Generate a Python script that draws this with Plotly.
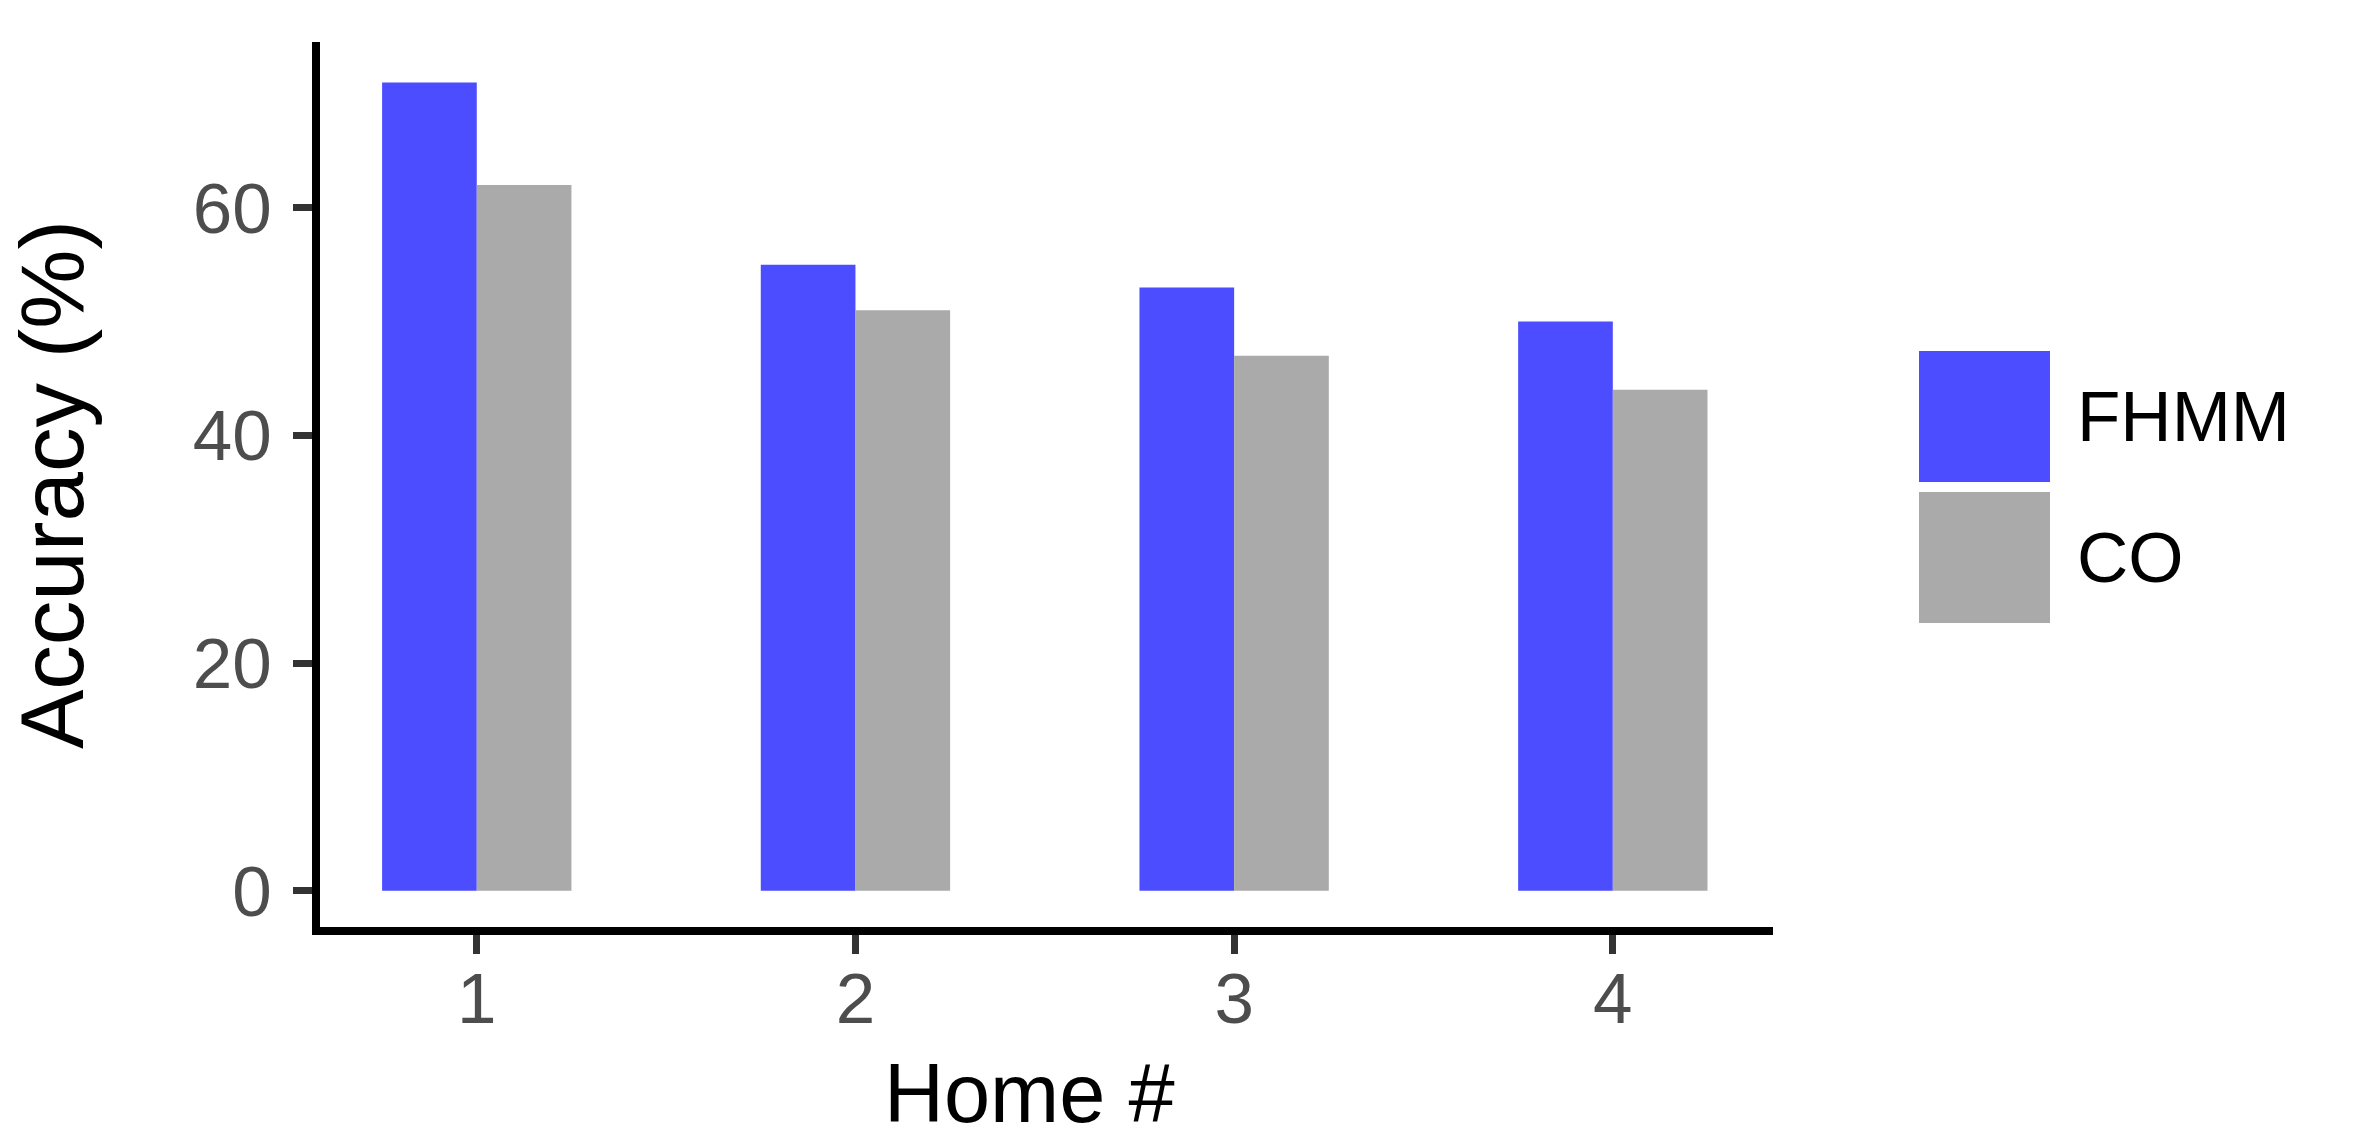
import plotly.graph_objects as go

# ---- data ----
homes = ["1", "2", "3", "4"]
fhmm_acc = [71, 55, 53, 50]
co_acc = [62, 51, 47, 44]
series_names = ["FHMM", "CO"]
series_colors = ["#4B4DFF", "#AAAAAA"]
y_tick_vals = [0, 20, 40, 60]
x_title = "Home #"
y_title = "Accuracy (%)"

# ---- geometry (pixels) ----
W, H = 2362, 1142
L, R, T, B = 320, 589, 42, 215
PW, PH = W - L - R, H - T - B


def px_to_paper_x(px):
    return (px - L) / PW


def px_to_paper_y(py):
    return (H - B - py) / PH


FONT = "Liberation Sans, Arial, Helvetica, sans-serif"

fig = go.Figure()
for name, vals, col in zip(series_names, [fhmm_acc, co_acc], series_colors):
    fig.add_trace(go.Bar(x=homes, y=vals, name=name,
                         marker=dict(color=col, line=dict(width=0)),
                         showlegend=False))

fig.update_layout(
    width=W, height=H,
    margin=dict(l=L, r=R, t=T, b=B, autoexpand=False),
    plot_bgcolor="white", paper_bgcolor="white",
    barmode="group", bargap=0.5, bargroupgap=0,
    font=dict(family=FONT),
)
fig.update_xaxes(type="category", range=[-0.414, 3.423],
                 showline=True, linecolor="black", linewidth=8,
                 ticks="outside", ticklen=19, tickwidth=7, tickcolor="#333333",
                 tickfont=dict(size=71, color="#4d4d4d", family=FONT),
                 ticklabelstandoff=-16,
                 showgrid=False, zeroline=False)
fig.update_yaxes(range=[-3.19, 74.56], tickvals=y_tick_vals,
                 showline=True, linecolor="black", linewidth=8,
                 ticks="outside", ticklen=19, tickwidth=7, tickcolor="#333333",
                 tickfont=dict(size=71, color="#4d4d4d", family=FONT),
                 ticklabelstandoff=7,
                 showgrid=False, zeroline=False)

# axis titles
fig.add_annotation(text=x_title, xref="paper", yref="paper",
                   x=px_to_paper_x(1029), y=px_to_paper_y(1093),
                   xanchor="center", yanchor="middle", showarrow=False,
                   font=dict(size=83, color="black", family=FONT))
fig.add_annotation(text=y_title, xref="paper", yref="paper",
                   x=px_to_paper_x(52), y=px_to_paper_y(485),
                   xanchor="center", yanchor="middle", showarrow=False,
                   textangle=-90,
                   font=dict(size=89, color="black", family=FONT))

# legend (large keys like ggplot)
key_x0, key_x1 = 1919, 2050
key_tops = [351, 492]
key_size = 131
for name, col, top in zip(series_names, series_colors, key_tops):
    fig.add_shape(type="rect", xref="paper", yref="paper",
                  x0=px_to_paper_x(key_x0), x1=px_to_paper_x(key_x1),
                  y0=px_to_paper_y(top + key_size), y1=px_to_paper_y(top),
                  fillcolor=col, line=dict(width=0))
    fig.add_annotation(text=name, xref="paper", yref="paper",
                       x=px_to_paper_x(2075), y=px_to_paper_y(top + key_size / 2),
                       xanchor="left", yanchor="middle", showarrow=False,
                       font=dict(size=71, color="black", family=FONT))

fig.write_html("out.html", config={"displayModeBar": False},
               post_script="document.body.style.margin='0';")
